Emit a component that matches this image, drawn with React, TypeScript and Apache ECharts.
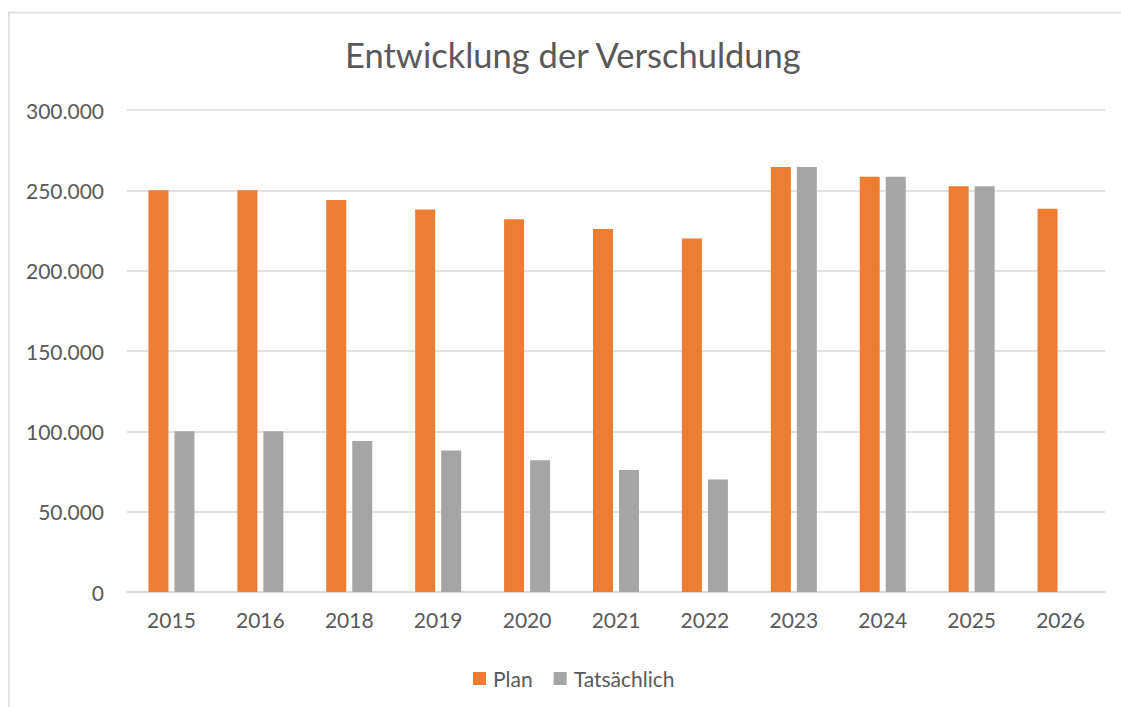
import React, { useEffect, useRef } from "react";
import * as echarts from "echarts";

const categories = ["2015", "2016", "2018", "2019", "2020", "2021", "2022", "2023", "2024", "2025", "2026"];
const planValues = [250000, 250000, 244000, 238000, 232000, 226000, 220000, 264500, 258500, 252500, 238500];
const actualValues: (number | null)[] = [100000, 100000, 94000, 88000, 82000, 76000, 70000, 264500, 258500, 252500, null];
const seriesNames = ["Plan", "Tatsächlich"];
const titleText = "Entwicklung der Verschuldung";

const fmt = (v: number) => String(v).replace(/\B(?=(\d{3})+(?!\d))/g, ".");

export default function App() {
  const ref = useRef<HTMLDivElement>(null);
  useEffect(() => {
    if (!ref.current) return;
    const chart = echarts.init(ref.current, undefined, { renderer: "svg" });
    const font = "Lato, 'Open Sans', sans-serif";
    chart.setOption({
      animation: false,
      backgroundColor: "#ffffff",
      textStyle: { fontFamily: font },
      title: {
        text: titleText,
        left: 340,
        top: 32,
        textStyle: { fontFamily: font, fontSize: 34.5, fontWeight: "normal", color: "#595959" },
      },
      legend: {
        data: seriesNames,
        left: 468,
        top: 663,
        itemWidth: 13,
        itemHeight: 13,
        itemGap: 21,
        icon: "rect",
        textStyle: { fontFamily: font, fontSize: 21, color: "#595959", padding: [0, 0, 0, 2] },
      },
      graphic: [
        {
          type: "rect",
          shape: { x: 9, y: 12.5, width: 1200, height: 800 },
          style: { fill: "none", stroke: "#D9D9D9", lineWidth: 1.5 },
          silent: true,
        },
      ],
      grid: { left: 127, right: 16, top: 110, bottom: 115 },
      xAxis: {
        type: "category",
        data: categories,
        axisLine: { lineStyle: { color: "#D9D9D9", width: 1.5 } },
        axisTick: { show: false },
        axisLabel: { fontFamily: font, fontSize: 21, color: "#595959", margin: 17 },
      },
      yAxis: {
        type: "value",
        min: 0,
        max: 300000,
        interval: 50000,
        axisLine: { show: false },
        axisTick: { show: false },
        splitLine: { lineStyle: { color: "#D9D9D9", width: 1.5 } },
        axisLabel: { fontFamily: font, fontSize: 21, color: "#595959", margin: 23, formatter: (v: number) => fmt(v) },
      },
      series: [
        {
          name: seriesNames[0],
          type: "bar",
          data: planValues,
          barWidth: 20,
          barGap: "30%",
          itemStyle: { color: "#ED7D31" },
        },
        {
          name: seriesNames[1],
          type: "bar",
          data: actualValues,
          barWidth: 20,
          itemStyle: { color: "#A5A5A5" },
        },
      ],
    });
    return () => chart.dispose();
  }, []);
  return <div ref={ref} style={{ position: "absolute", left: 0, top: 0, width: 1121, height: 707 }} />;
}
